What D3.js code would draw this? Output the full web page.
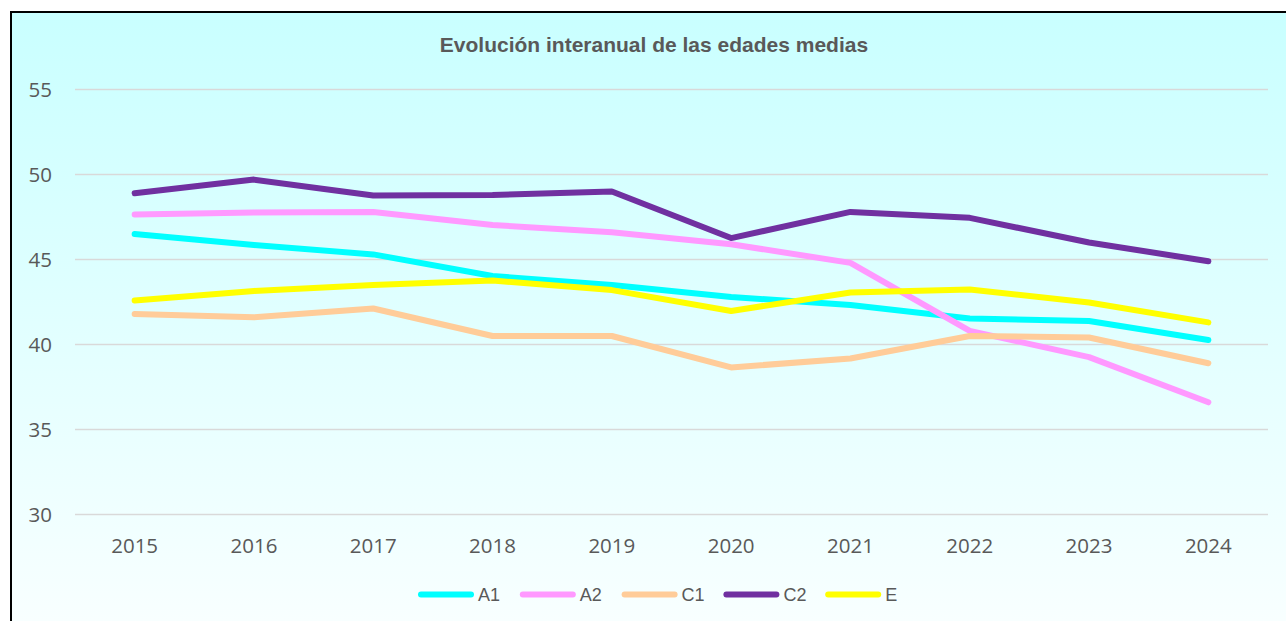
<!DOCTYPE html>
<html>
<head>
<meta charset="utf-8">
<script src="https://cdn.jsdelivr.net/npm/d3@7"></script>
<style>
  html, body { margin: 0; padding: 0; background: #fff; }
  svg { display: block; }
</style>
</head>
<body>
<div id="chart"></div>
<script>
const WIDTH = 1286;
const HEIGHT = 621;

const years = ['2015', '2016', '2017', '2018', '2019', '2020', '2021', '2022', '2023', '2024'];
const yTicks = [30, 35, 40, 45, 50, 55];
const seriesNames = ['A1', 'A2', 'C1', 'C2', 'E'];

const a1 = [46.5, 45.85, 45.3, 44.03, 43.5, 42.8, 42.32, 41.53, 41.38, 40.26];
const a2 = [47.65, 47.76, 47.8, 47.03, 46.6, 45.9, 44.8, 40.8, 39.26, 36.6];
const c1 = [41.8, 41.6, 42.12, 40.5, 40.5, 38.65, 39.18, 40.5, 40.41, 38.9];
const c2 = [48.9, 49.7, 48.76, 48.8, 49.0, 46.26, 47.8, 47.45, 46.0, 44.9];
const e = [42.59, 43.15, 43.5, 43.76, 43.2, 41.97, 43.06, 43.24, 42.47, 41.3];

const colors = ['#00FFFF', '#FF99FF', '#FFCC99', '#7030A0', '#FFFF00'];
const seriesValues = [a1, a2, c1, c2, e];

const LEFT = 75;
const RIGHT = 1268;
const TOP = 89.5;
const BOTTOM = 514.5;

const svg = d3.select('#chart').append('svg')
  .attr('width', WIDTH)
  .attr('height', HEIGHT);

// background gradient + frame
const defs = svg.append('defs');
const grad = defs.append('linearGradient')
  .attr('id', 'bg')
  .attr('x1', 0).attr('y1', 0).attr('x2', 0).attr('y2', 1);
grad.append('stop').attr('offset', '0%').attr('stop-color', '#C9FFFF');
grad.append('stop').attr('offset', '100%').attr('stop-color', '#F9FFFF');

svg.append('rect')
  .attr('x', 11).attr('y', 12)
  .attr('width', WIDTH).attr('height', HEIGHT)
  .attr('fill', 'url(#bg)')
  .attr('stroke', '#000')
  .attr('stroke-width', 2);

const x = d3.scalePoint()
  .domain(years)
  .range([LEFT, RIGHT])
  .padding(0.5);

const y = d3.scaleLinear()
  .domain([30, 55])
  .range([BOTTOM, TOP]);

// gridlines
svg.append('g')
  .selectAll('line')
  .data(yTicks)
  .join('line')
  .attr('x1', LEFT).attr('x2', RIGHT)
  .attr('y1', d => y(d)).attr('y2', d => y(d))
  .attr('stroke', '#D9D9D9')
  .attr('stroke-width', 1.5);

// y labels
svg.append('g')
  .selectAll('text')
  .data(yTicks)
  .join('text')
  .attr('x', 52)
  .attr('y', d => y(d))
  .attr('dy', '0.36em')
  .attr('text-anchor', 'end')
  .attr('fill', '#595959')
  .style('font-family', '"Open Sans", sans-serif')
  .style('font-size', '20.5px')
  .text(d => d);

// x labels
svg.append('g')
  .selectAll('text')
  .data(years)
  .join('text')
  .attr('x', d => x(d))
  .attr('y', 553)
  .attr('text-anchor', 'middle')
  .attr('fill', '#595959')
  .style('font-family', '"Open Sans", sans-serif')
  .style('font-size', '20.5px')
  .text(d => d);

// title
svg.append('text')
  .attr('x', 654)
  .attr('y', 52)
  .attr('text-anchor', 'middle')
  .attr('fill', '#595959')
  .style('font-family', '"Liberation Sans", Arial, sans-serif')
  .style('font-weight', 'bold')
  .style('font-size', '21px')
  .text('Evolución interanual de las edades medias');

// lines
const line = d3.line()
  .x((d, i) => x(years[i]))
  .y(d => y(d));

svg.append('g')
  .selectAll('path')
  .data(seriesValues)
  .join('path')
  .attr('d', d => line(d))
  .attr('fill', 'none')
  .attr('stroke', (d, i) => colors[i])
  .attr('stroke-width', 6)
  .attr('stroke-linecap', 'round')
  .attr('stroke-linejoin', 'round');

// legend
const legend = svg.append('g')
  .selectAll('g')
  .data(seriesNames)
  .join('g')
  .attr('transform', (d, i) => `translate(${418 + i * 101.8},594.5)`);

legend.append('line')
  .attr('x1', 3).attr('x2', 53)
  .attr('stroke', (d, i) => colors[i])
  .attr('stroke-width', 6)
  .attr('stroke-linecap', 'round');

legend.append('text')
  .attr('x', 60)
  .attr('y', 6.5)
  .attr('fill', '#595959')
  .style('font-family', '"Liberation Sans", Arial, sans-serif')
  .style('font-size', '18px')
  .text(d => d);
</script>
</body>
</html>
